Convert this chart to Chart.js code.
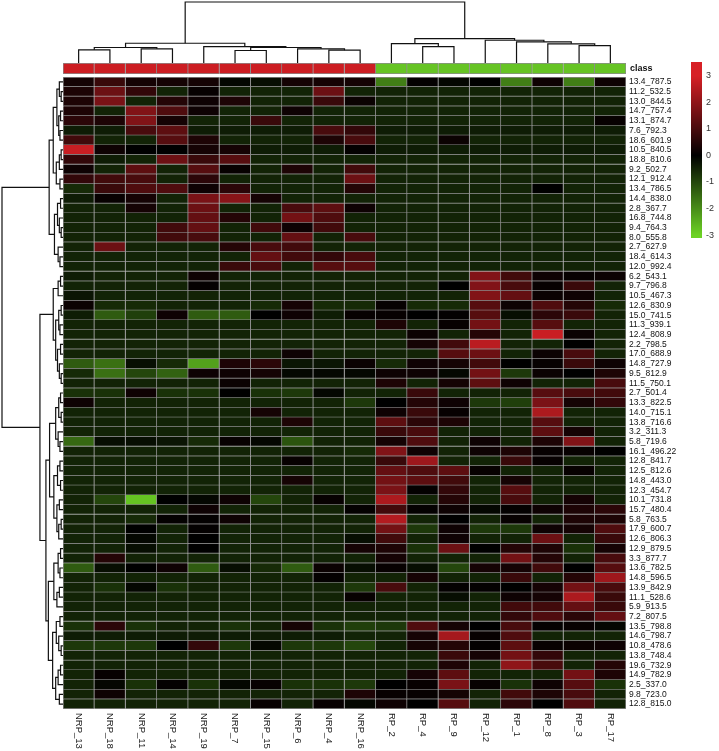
<!DOCTYPE html>
<html>
<head>
<meta charset="utf-8">
<script src="https://cdn.jsdelivr.net/npm/chart.js@4.4.1/dist/chart.umd.min.js"></script>
<style>
  body { margin: 0; background: #fff; }
  #wrap { position: relative; width: 719px; height: 751px; overflow: hidden; }
  #wrap canvas { position: absolute; }
</style>
</head>
<body>
<div id="wrap">
  <canvas id="top_tree" width="563" height="63" style="left:63px;top:0px"></canvas>
  <canvas id="left_tree" width="63" height="632" style="left:0px;top:77px"></canvas>
  <canvas id="heat" width="656" height="684" style="left:63px;top:67px"></canvas>
  <canvas id="class_bar" width="656" height="31" style="left:63px;top:53px"></canvas>
  <canvas id="color_key" width="28" height="196" style="left:691px;top:52px"></canvas>
</div>
<script>
// samples (columns) in dendrogram order
const samples = ['NRP_13', 'NRP_18', 'NRP_11', 'NRP_14', 'NRP_19', 'NRP_7', 'NRP_15', 'NRP_6', 'NRP_4', 'NRP_16',
                 'RP_2', 'RP_4', 'RP_9', 'RP_12', 'RP_1', 'RP_8', 'RP_3', 'RP_17'];
const sample_class = ['NRP', 'NRP', 'NRP', 'NRP', 'NRP', 'NRP', 'NRP', 'NRP', 'NRP', 'NRP',
                      'RP', 'RP', 'RP', 'RP', 'RP', 'RP', 'RP', 'RP'];

// features (rows) in dendrogram order
const features = ['13.4_787.5', '11.2_532.5', '13.0_844.5', '14.7_757.4', '13.1_874.7', '7.6_792.3', '18.6_601.9',
  '10.5_840.5', '18.8_810.6', '9.2_502.7', '12.1_912.4', '13.4_786.5', '14.4_838.0', '2.8_367.7', '16.8_744.8',
  '9.4_764.3', '8.0_555.8', '2.7_627.9', '18.4_614.3', '12.0_992.4', '6.2_543.1', '9.7_796.8', '10.5_467.3',
  '12.6_830.9', '15.0_741.5', '11.3_939.1', '12.4_808.9', '2.2_798.5', '17.0_688.9', '14.8_727.9', '9.5_812.9',
  '11.5_750.1', '2.7_501.4', '13.3_822.5', '14.0_715.1', '13.8_716.6', '3.2_311.3', '5.8_719.6', '16.1_496.22',
  '12.8_841.7', '12.5_812.6', '14.8_443.0', '12.3_454.7', '10.1_731.8', '15.7_480.4', '5.8_763.5', '17.9_600.7',
  '12.6_806.3', '12.9_879.5', '3.3_877.7', '13.6_782.5', '14.8_596.5', '13.9_842.9', '11.1_528.6', '5.9_913.5',
  '7.2_807.5', '13.5_798.8', '14.6_798.7', '10.8_478.6', '13.8_748.4', '19.6_732.9', '14.9_782.9', '2.5_337.0',
  '9.8_723.0', '12.8_815.0'];

// scaled intensities, one row per feature, columns as in samples
const values = [
  [0.3, 0.8, 0.3, 0.3, 0.3, -0.1, -0.2, 0.3, 0.3, 0.3, -1.8, 0.05, -0.1, 0, -1.8, 0.2, -1.8, 0.2],
  [0.4, 1.5, 0.7, -0.5, 0.1, -0.5, -0.5, -0.5, 1.5, -0.5, -0.5, -0.5, -0.5, -0.5, -0.5, -0.5, -0.5, -0.5],
  [0.4, 1.7, -0.5, 0.5, 0.2, 0.4, -0.5, -0.5, 0.8, 0.15, -0.5, -0.5, -0.5, -0.5, -0.5, -0.5, -0.5, -0.5],
  [0.4, -0.5, 1.8, 1.1, 0.2, -0.5, -0.5, 0.2, -0.5, -0.5, -0.5, -0.5, -0.5, -0.5, -0.5, -0.5, -0.5, -0.5],
  [0.6, 0.4, 1.8, 0.3, -0.5, -0.5, 0.8, -0.5, -0.5, -0.5, -0.5, -0.5, -0.5, -0.5, -0.5, -0.5, -0.5, 0.1],
  [-0.4, -0.4, 1.0, 1.3, -0.4, -0.4, -0.4, -0.4, 1.0, 0.7, -0.4, -0.4, -0.4, -0.4, -0.4, -0.4, -0.4, -0.4],
  [0.9, -0.5, -0.5, 1.2, 0.4, -0.5, -0.5, -0.5, 0.4, 1.0, -0.5, -0.5, 0.15, -0.5, -0.5, -0.5, -0.5, -0.5],
  [2.8, 0.2, 0, 0, 0.3, 0.3, -0.4, -0.4, -0.4, 0.05, -0.4, -0.4, -0.4, -0.4, -0.4, -0.4, -0.4, -0.4],
  [0.7, -0.4, -0.5, 1.5, 0.8, 1.2, -0.5, -0.5, -0.5, -0.5, -0.5, -0.5, -0.5, -0.5, -0.5, -0.5, -0.5, -0.5],
  [0.2, -0.5, 1.3, -0.5, 1.2, 0.1, -0.5, 0.4, -0.5, 0.9, -0.5, -0.5, -0.5, -0.5, -0.5, -0.5, -0.5, -0.5],
  [0.7, 0.9, 1.0, -0.5, 0.6, -0.5, -0.5, -0.5, -0.5, 1.5, -0.5, -0.5, -0.5, -0.5, -0.5, -0.5, -0.5, -0.5],
  [-0.6, 0.8, 1.1, 1.1, 0.2, 0.6, -0.5, -0.5, -0.5, 0.5, -0.5, -0.5, -0.5, -0.5, -0.5, 0, -0.5, -0.5],
  [-0.4, 0.1, 0.3, -0.5, 1.7, 1.9, 0.3, -0.5, -0.5, -0.5, -0.5, -0.5, -0.5, -0.5, -0.5, -0.5, -0.5, -0.5],
  [-0.5, -0.5, 0.3, -0.5, 1.5, -0.5, -0.5, 1.0, 1.3, 0.2, -0.5, -0.5, -0.5, -0.5, -0.5, -0.5, -0.5, -0.5],
  [-0.5, -0.5, -0.5, -0.5, 1.4, 0.5, -0.5, 1.6, 1.1, -0.5, -0.5, -0.5, -0.5, -0.5, -0.5, -0.5, -0.5, -0.5],
  [-0.5, -0.5, -0.5, 0.9, 1.4, -0.5, 0.9, 0.2, 0.9, -0.5, -0.5, -0.5, -0.5, -0.5, -0.5, -0.5, -0.5, -0.5],
  [-0.5, -0.5, -0.5, 0.9, 1.0, -0.5, -0.5, 1.4, -0.5, 1.0, -0.5, -0.5, -0.5, -0.5, -0.5, -0.5, -0.5, -0.5],
  [-0.5, 1.5, -0.5, -0.5, -0.5, 0.5, 1.0, 0.9, -0.5, -0.5, -0.5, -0.5, -0.5, -0.5, -0.5, -0.5, -0.5, -0.5],
  [-0.5, -0.5, -0.5, -0.5, -0.5, -0.5, 1.4, 0.9, 0.7, 1.0, -0.5, -0.5, -0.5, -0.5, -0.5, -0.5, -0.5, -0.5],
  [-0.5, -0.5, -0.5, -0.5, -0.5, 0.8, 1.0, -0.5, 1.2, 1.2, -0.5, -0.5, -0.5, -0.5, -0.5, -0.5, -0.5, -0.5],
  [-0.4, -0.5, -0.5, -0.5, 0.2, -0.5, -0.5, -0.5, -0.5, -0.5, -0.5, -0.5, -0.5, 1.8, 0.9, 0.2, 0.1, 0.15],
  [-0.5, -0.5, -0.5, -0.5, 0.05, -0.5, -0.5, -0.5, -0.5, -0.5, -0.5, -0.5, 0, 1.8, 1.0, 0.1, 0.8, -0.5],
  [-0.3, -0.5, -0.5, -0.5, -0.5, -0.5, -0.5, -0.5, -0.5, -0.5, -0.5, -0.5, -0.5, 1.8, 1.4, 0.15, 0.2, -0.5],
  [0.15, -0.6, -0.6, -0.5, -0.5, -0.5, -0.6, 0.3, -0.6, -0.6, 0.1, -0.6, -0.6, 1.2, 0.2, 1.1, 0.5, -0.6],
  [-0.4, -1.3, -0.9, 0.2, -1.3, -1.3, 0, 0.2, -0.4, 0.1, 0.1, 0, 0.05, 1.2, -0.2, 0.6, 0.8, -0.5],
  [-0.5, -0.5, -0.5, -0.5, -0.5, -0.5, -0.5, -0.5, -0.5, -0.5, 0.4, -0.5, 0.1, 1.6, -0.5, 1.2, -0.5, -0.5],
  [-0.5, -0.5, -0.5, -0.5, -0.5, -0.5, -0.5, -0.5, -0.5, -0.5, -0.5, 0.15, -0.5, 0.5, -0.5, 2.8, 0.15, -0.5],
  [-0.5, -0.5, -0.5, -0.5, -0.5, -0.5, -0.5, -0.5, -0.5, -0.5, -0.5, 0.3, 0.9, 2.6, -0.5, -0.5, 0, -0.5],
  [-0.5, -0.5, -0.5, -0.5, -0.5, -0.5, -0.5, 0.2, -0.5, -0.5, -0.5, -0.5, 1.2, 1.5, -0.5, 0.15, 1.0, -0.5],
  [-1.3, -1.6, -0.2, -0.6, -2.3, 0.4, 0.6, -0.3, -0.3, 0.15, -0.6, 0.2, 0.3, 0.9, 0, 0.1, 0.8, 0.2],
  [-0.6, -1.6, -1.0, -1.4, 0.2, 0.2, 0.3, -0.1, -0.1, -0.1, 0.2, 0.2, -0.1, 1.6, -0.8, 0.15, 0, 0.4],
  [-0.5, -0.5, -0.5, -0.5, -0.5, 0.15, -0.5, -0.5, -0.5, -0.5, 0.4, -0.5, 0.3, 1.3, 0.2, -0.5, -0.5, 1.0],
  [-0.7, -0.7, 0.2, -0.7, -0.7, 0, -0.7, -0.8, -0.1, -0.5, -0.5, 0.8, -0.5, -0.5, -0.5, 1.2, 1.0, 0.9],
  [0.2, -0.5, -0.5, -0.5, -0.5, -0.5, -0.5, -0.5, -0.5, -0.8, 0, 0.5, 0.2, -0.8, -0.9, 1.7, 0.3, 0.7],
  [-0.5, -0.5, -0.5, -0.5, -0.5, -0.5, 0.3, -0.5, -0.5, -0.5, 0.2, 0.8, 0.1, -0.5, -0.5, 2.4, -0.5, -0.5],
  [-0.5, -0.5, -0.5, -0.5, -0.5, -0.5, -0.5, 0.4, -0.5, -0.5, 1.3, 0.6, 0.4, -0.5, -0.5, 1.2, -0.5, -0.5],
  [-0.5, -0.5, -0.5, -0.5, -0.5, -0.5, -0.5, -0.5, -0.5, -0.5, 0.8, 1.0, -0.5, -0.5, -0.5, 1.3, 0.3, -0.5],
  [-1.5, -0.2, -0.2, -0.3, -0.6, 0.1, -0.1, -1.2, -0.5, -0.5, 0.3, 1.1, -0.5, 0.2, -0.5, 0.4, 1.8, -0.5],
  [-0.5, -0.5, -0.5, -0.5, -0.5, -0.5, -0.5, -0.5, -0.5, -0.6, 1.8, 0.2, -0.5, 0.2, 0.4, 0.1, 0.1, 0],
  [-0.5, -0.5, -0.5, -0.5, -0.5, -0.5, -0.5, 0.1, -0.5, -0.5, 0.8, 2.2, -0.5, -0.5, 0.8, 0.1, -0.5, -0.5],
  [-0.5, -0.5, -0.5, -0.5, -0.5, -0.5, -0.5, -0.5, -0.5, -0.5, 1.4, 1.1, 1.3, 0.1, -0.5, -0.5, 0.1, -0.5],
  [-0.5, -0.5, -0.5, -0.5, -0.5, -0.5, -0.5, 0.3, -0.5, -0.5, 1.6, 1.3, 0.9, -0.5, 0.3, -0.5, -0.5, -0.5],
  [-0.5, -0.5, -0.5, -0.5, -0.5, -0.5, -0.5, -0.5, -0.5, -0.5, 1.7, 0.05, 0.7, -0.5, 1.2, -0.5, -0.5, -0.5],
  [-0.5, -1.0, -2.8, 0, -0.1, 0.2, -1.0, -0.5, 0.1, -0.5, 2.4, -0.5, 0.5, -0.5, 1.0, -0.5, 0.3, -0.5],
  [-0.5, -0.5, -0.5, -0.5, 0.2, -0.5, -0.5, -0.5, -0.5, 0.05, 0.9, 0.05, 0.2, -0.1, 0.05, 0.2, 0.4, 0.6],
  [-0.5, -0.5, -0.6, 0.05, 0.05, 0.2, -0.5, -0.5, -0.5, -0.5, 2.5, -0.5, 0, -0.5, 0.1, -0.5, 0.4, 0.4],
  [-0.5, -0.5, 0, -0.5, 0.05, -0.5, -0.5, -0.5, -0.5, -0.5, 1.6, -0.8, 0.2, -0.8, -0.8, 0.2, 0.3, 1.1],
  [-0.5, -0.5, -0.1, -0.5, 0, -0.5, -0.5, -0.5, -0.5, -0.2, 0.9, -0.5, 0.2, -0.5, -0.5, 1.5, -0.5, 0.8],
  [-0.5, -0.5, -0.2, -0.5, 0, -0.5, -0.5, -0.5, -0.5, 0.3, 0.4, -0.7, 1.5, 0, 0.5, 0.4, -0.7, 0.3],
  [-0.5, 0.5, -0.5, -0.5, -0.5, -0.5, -0.5, -0.5, -0.5, -0.5, 0.3, -0.5, -0.5, -0.5, 1.6, 0.5, -0.5, 1.0],
  [-1.3, -0.2, 0, 0.2, -1.3, -0.2, -0.6, -1.3, 0.15, -0.2, 0.1, -0.2, -1.0, 0.3, 0.3, 0.9, 0, 1.2],
  [-0.5, -0.5, -0.5, -0.5, -0.5, -0.5, -0.5, -0.5, 0.05, -0.5, -0.5, 0.3, -0.5, -0.5, 0.8, -0.5, 0.5, 2.2],
  [-0.5, -0.7, -0.1, -0.7, -0.5, -0.5, -0.5, -0.5, -0.5, -0.8, 1.0, -0.5, 0.05, 0.05, 0, 0.3, 1.6, 1.0],
  [-0.5, -0.5, -0.5, -0.5, -0.5, -0.5, -0.5, -0.5, -0.5, 0.1, -0.5, -0.5, -0.2, -0.5, 0.2, 0.3, 2.4, 0.8],
  [-0.5, -0.5, -0.5, -0.5, -0.5, -0.5, -0.5, -0.5, -0.5, -0.5, -0.5, -0.5, -0.5, -0.5, 0.9, 0.9, 1.4, 0.8],
  [-0.5, -0.5, -0.5, -0.5, -0.5, -0.5, -0.5, -0.5, -0.5, -0.5, -0.5, -0.5, -0.5, -0.5, 0.7, 1.1, 0.6, 1.4],
  [-0.7, 0.6, -0.7, -0.5, -0.5, -0.7, -0.5, 0.3, -0.7, -0.9, -0.8, 1.1, 0.3, 0, 1.0, 0.05, 0.1, -0.1],
  [-0.4, -0.4, -0.4, -0.4, -0.4, -0.4, -0.4, -0.4, -0.4, -0.5, -0.5, 0.3, 2.3, 0.1, 1.1, -0.5, -0.5, -0.5],
  [-0.8, -0.8, -0.8, 0, 0.7, -0.8, -0.1, -0.8, -0.8, -1.0, -0.5, 0.3, 0.5, 0.05, 1.3, 0.1, 0.15, 0.2],
  [-0.5, -0.5, -0.5, -0.5, -0.5, -0.5, -0.5, -0.5, -0.5, -0.5, -0.5, -0.5, 0.8, 0.3, 1.6, 0.7, -0.5, -0.5],
  [-0.5, -0.5, -0.5, -0.5, -0.5, -0.5, -0.5, -0.5, -0.5, -0.5, -0.5, -0.5, 0.4, -0.5, 2.0, 1.0, -0.5, 0.5],
  [-0.5, 0.1, -0.5, -0.5, -0.5, -0.5, -0.5, -0.5, -0.5, -0.5, -0.5, 0.3, 1.3, -0.5, -0.5, -0.5, 1.6, 0.4],
  [-0.5, -0.1, -0.7, 0.05, -0.7, -0.1, 0.1, -0.7, -0.7, -0.8, 0, 0.1, 1.7, 0.1, -0.7, 0.2, 1.2, -0.7],
  [-0.5, 0.2, -0.5, -0.5, -0.5, -0.5, -0.5, -0.5, -0.5, 0.4, 0.1, 0.1, 0.3, -0.5, 0.9, 0.4, 1.0, -0.5],
  [-0.5, -0.5, -0.5, -0.5, -0.5, -0.5, 0.1, -0.5, 0.1, -0.1, 0.2, 0, 1.2, -0.5, 0.6, 0, 1.1, -0.5]
];

// dendrograms: [height, left, right], leaves are indexes into samples / features
const col_tree = [1.0,
  [0.324, [0.254, [0.216, 0, 1], [0.232, 2, 3]], [0.27, 4, [0.254, [0.205, 5, 6], [0.232, 7, [0.211, 8, 9]]]]],
  [0.40, [0.319, 10, [0.27, 11, 12]], [0.373, 13, [0.346, 14, [0.314, 15, [0.286, 16, 17]]]]]];

const row_tree = [1.0,
  [0.227,
    [0.16, [0.10, [0.06, 0, [0.03, 1, 2]], [0.07, [0.04, 3, 4], [0.05, 5, 6]]], [0.11, [0.06, [0.03, 7, 8], 9], [0.05, 10, 11]]],
    [0.14, [0.09, [0.04, 12, 13], [0.06, 14, [0.03, 15, 16]]], [0.08, 17, [0.05, 18, 19]]]],
  [0.378,
    [0.16, [0.08, [0.04, 20, 21], 22], [0.12, [0.07, [0.03, 23, 24], [0.05, 25, 26]], [0.09, [0.04, 27, 28], [0.06, 29, [0.03, 30, 31]]]]],
    [0.28,
      [0.22, [0.12, [0.07, [0.04, 32, 33], [0.03, 34, 35]], [0.08, 36, [0.05, 37, 38]]],
             [0.15, [0.09, [0.05, 39, 40], [0.04, 41, 42]], [0.1, [0.06, 43, 44], [0.07, [0.03, 45, 46], 47]]]],
      [0.24, [0.15, [0.08, [0.04, 48, 49], [0.05, 50, 51]], [0.1, [0.06, 52, 53], 54]],
             [0.17, [0.11, [0.05, 55, 56], [0.07, 57, [0.03, 58, 59]]], [0.12, [0.08, [0.04, 60, 61], 62], [0.06, 63, 64]]]]]]];

// colour key range and ticks
const key_min = -3.11;
const key_max = 3.52;
const key_ticks = [-3, -2, -1, 0, 1, 2, 3];

const class_colors = {NRP: '#cc1d22', RP: '#66c424'};
const font_family = '"Liberation Sans", Arial, sans-serif';
const cell_border = '#8c8c8c';

function heatColor(v) {
  const t = Math.min(Math.abs(v) / 3, 1);
  if (v >= 0) return `rgb(${Math.round(215 * t)},${Math.round(32 * t)},${Math.round(38 * t)})`;
  return `rgb(${Math.round(108 * t)},${Math.round(210 * t)},${Math.round(36 * t)})`;
}

// walk a tree and return the U shaped links as [pos, height] points
function treeLinks(tree) {
  const links = [];
  function walk(node) {
    if (typeof node === 'number') return {pos: node + 0.5, h: 0};
    const a = walk(node[1]);
    const b = walk(node[2]);
    links.push([[a.pos, a.h], [a.pos, node[0]], [b.pos, node[0]], [b.pos, b.h]]);
    return {pos: (a.pos + b.pos) / 2, h: node[0]};
  }
  walk(tree);
  return links;
}

function linkDatasets(links, toPoint) {
  return links.map(link => ({
    data: link.map(toPoint),
    showLine: true,
    borderColor: '#111',
    borderWidth: 1.2,
    pointRadius: 0,
    clip: false
  }));
}

const base_options = {
  responsive: false,
  animation: false,
  events: [],
  devicePixelRatio: 1,
  plugins: {legend: {display: false}, tooltip: {enabled: false}}
};

// labels under the heatmap, read top to bottom
const sampleLabels = {
  id: 'sampleLabels',
  afterDraw(chart) {
    const {ctx, chartArea, scales: {x}} = chart;
    ctx.save();
    ctx.font = '9.5px ' + font_family;
    ctx.fillStyle = '#1a1a1a';
    ctx.textBaseline = 'middle';
    ctx.textAlign = 'left';
    samples.forEach((s, j) => {
      ctx.save();
      ctx.translate(x.getPixelForValue(j + 0.5), chartArea.bottom + 4);
      ctx.rotate(Math.PI / 2);
      ctx.fillText(s, 0, 0);
      ctx.restore();
    });
    ctx.restore();
  }
};

// Heatmap
const heat = new Chart(document.getElementById('heat'), {
  type: 'bar',
  data: {
    labels: features,
    datasets: samples.map((s, j) => ({
      label: s,
      data: features.map(() => 1),
      backgroundColor: values.map(row => heatColor(row[j])),
      borderColor: cell_border,
      borderWidth: ctx => ({top: ctx.dataIndex === 0 ? 1 : 0, left: j === 0 ? 1 : 0, right: 1, bottom: 1}),
      borderSkipped: false,
      barPercentage: 1,
      categoryPercentage: 1
    }))
  },
  options: {
    ...base_options,
    indexAxis: 'y',
    layout: {padding: {top: 10, bottom: 42, left: 0, right: 0}},
    scales: {
      x: {type: 'linear', stacked: true, min: 0, max: samples.length, display: false},
      y: {
        stacked: true,
        position: 'right',
        grid: {display: false, drawTicks: false},
        border: {display: false},
        ticks: {autoSkip: false, padding: 3, color: '#111', font: {family: font_family, size: 8.5}},
        afterFit: s => { s.width = 93; }
      }
    }
  },
  plugins: [sampleLabels]
});

// Class colour bar
const class_bar = new Chart(document.getElementById('class_bar'), {
  type: 'bar',
  data: {
    labels: ['class'],
    datasets: samples.map((s, j) => ({
      label: s,
      data: [1],
      backgroundColor: class_colors[sample_class[j]],
      borderColor: cell_border,
      borderWidth: {top: 1, left: j === 0 ? 1 : 0, right: 1, bottom: 1},
      borderSkipped: false,
      barPercentage: 1,
      categoryPercentage: 1
    }))
  },
  options: {
    ...base_options,
    indexAxis: 'y',
    layout: {padding: {top: 10, bottom: 10, left: 0, right: 0}},
    scales: {
      x: {type: 'linear', stacked: true, min: 0, max: samples.length, display: false},
      y: {
        stacked: true,
        position: 'right',
        grid: {display: false, drawTicks: false},
        border: {display: false},
        ticks: {padding: 4, color: '#111', font: {family: font_family, size: 9, weight: 'bold'}},
        afterFit: s => { s.width = 93; }
      }
    }
  }
});

// Sample dendrogram
const top_tree = new Chart(document.getElementById('top_tree'), {
  type: 'scatter',
  data: {datasets: linkDatasets(treeLinks(col_tree), ([p, h]) => ({x: p, y: h}))},
  options: {
    ...base_options,
    layout: {padding: {top: 2}},
    scales: {
      x: {type: 'linear', min: 0, max: samples.length, display: false},
      y: {type: 'linear', min: 0, max: 1, display: false}
    }
  }
});

// Feature dendrogram
const left_tree = new Chart(document.getElementById('left_tree'), {
  type: 'scatter',
  data: {datasets: linkDatasets(treeLinks(row_tree), ([p, h]) => ({x: h, y: p}))},
  options: {
    ...base_options,
    layout: {padding: {left: 2}},
    scales: {
      x: {type: 'linear', min: 0, max: 1, reverse: true, display: false},
      y: {type: 'linear', min: 0, max: features.length, reverse: true, display: false}
    }
  }
});

// Colour key
const color_key = new Chart(document.getElementById('color_key'), {
  type: 'bar',
  data: {
    labels: ['key'],
    datasets: [{
      data: [[key_min, key_max]],
      barPercentage: 1,
      categoryPercentage: 1,
      backgroundColor: ctx => {
        const chart = ctx.chart;
        if (!chart.chartArea) return null;
        const y = chart.scales.y;
        const g = chart.ctx.createLinearGradient(0, y.getPixelForValue(key_max), 0, y.getPixelForValue(key_min));
        [key_max, ...key_ticks.slice().reverse(), key_min].forEach(v => {
          g.addColorStop((key_max - v) / (key_max - key_min), heatColor(v));
        });
        return g;
      }
    }]
  },
  options: {
    ...base_options,
    layout: {padding: {top: 10, bottom: 10, left: 0, right: 0}},
    scales: {
      x: {display: false},
      y: {
        position: 'right',
        min: key_min,
        max: key_max,
        grid: {display: false, drawTicks: false},
        border: {display: false},
        afterBuildTicks: s => { s.ticks = key_ticks.map(v => ({value: v})); },
        ticks: {padding: 4, color: '#333', font: {family: font_family, size: 9}},
        afterFit: s => { s.width = 17; }
      }
    }
  }
});
</script>
</body>
</html>
